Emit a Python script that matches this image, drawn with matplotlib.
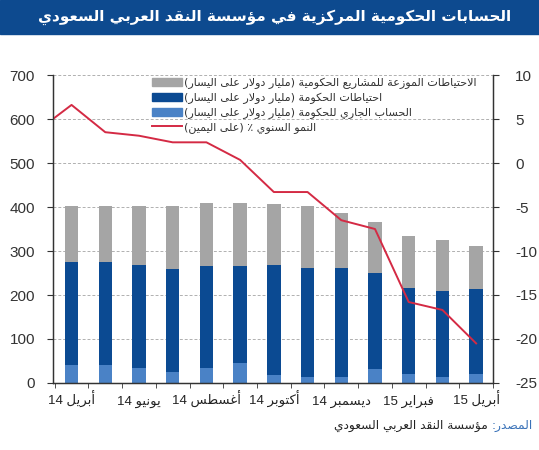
import numpy as np
import matplotlib
matplotlib.use('Agg')
from matplotlib import pyplot as plt
from matplotlib.patches import Rectangle, Patch
from matplotlib.lines import Line2D

plt.rcParams['font.family'] = ['Liberation Sans', 'DejaVu Sans']
plt.rcParams['axes.unicode_minus'] = False

# ---- data ----
months = ['أبريل 14', 'مايو 14', 'يونيو 14', 'يوليو 14', 'أغسطس 14', 'سبتمبر 14', 'أكتوبر 14',
          'نوفمبر 14', 'ديسمبر 14', 'يناير 15', 'فبراير 15', 'مارس 15', 'أبريل 15']
current_account = [42, 42, 35, 25, 33, 46, 18, 14, 14, 31, 21, 14, 21]
gov_reserves = [233, 233, 233, 233, 233, 220, 250, 247, 247, 220, 194, 194, 192]
project_reserves = [127, 127, 134, 144, 144, 144, 139, 142, 125, 115, 120, 117, 98]
# growth series starts one month earlier (March 14), clipped by the axis edge
growth = [3.7, 6.6, 3.5, 3.1, 2.35, 2.35, 0.35, -3.3, -3.3, -6.5, -7.5, -15.8, -16.7, -20.5]

title = 'الحسابات الحكومية المركزية في مؤسسة النقد العربي السعودي'
lbl_project = 'الاحتياطات الموزعة للمشاريع الحكومية (مليار دولار على اليسار)'
lbl_gov = 'احتياطات الحكومة (مليار دولار على اليسار)'
lbl_current = 'الحساب الجاري للحكومة (مليار دولار على اليسار)'
lbl_growth = 'النمو السنوي ٪ (على اليمين)'
source_head = 'المصدر:'
source_body = 'مؤسسة النقد العربي السعودي'

GRAY = '#a5a5a5'
DARK = '#0b4a92'
LIGHT = '#4a82c6'
RED = '#d42a44'
BANNER = '#0d4a8f'

# ---- tiny arabic shaper (matplotlib has no shaping / bidi) ----
DUAL = {'ئ': 0xFE89, 'ب': 0xFE8F, 'ت': 0xFE95, 'ث': 0xFE99, 'ج': 0xFE9D, 'ح': 0xFEA1,
        'خ': 0xFEA5, 'س': 0xFEB1, 'ش': 0xFEB5, 'ص': 0xFEB9, 'ض': 0xFEBD, 'ط': 0xFEC1,
        'ظ': 0xFEC5, 'ع': 0xFEC9, 'غ': 0xFECD, 'ف': 0xFED1, 'ق': 0xFED5, 'ك': 0xFED9,
        'ل': 0xFEDD, 'م': 0xFEE1, 'ن': 0xFEE5, 'ه': 0xFEE9, 'ي': 0xFEF1}
RIGHT = {'آ': 0xFE81, 'أ': 0xFE83, 'ؤ': 0xFE85, 'إ': 0xFE87, 'ا': 0xFE8D, 'ة': 0xFE93,
         'د': 0xFEA9, 'ذ': 0xFEAB, 'ر': 0xFEAD, 'ز': 0xFEAF, 'و': 0xFEED, 'ى': 0xFEEF}
LAM_ALEF = {'آ': 0xFEF5, 'أ': 0xFEF7, 'إ': 0xFEF9, 'ا': 0xFEFB}


def shape(s):
    chars = []
    i = 0
    while i < len(s):
        if s[i] == 'ل' and i + 1 < len(s) and s[i + 1] in LAM_ALEF:
            chars.append(('LA', s[i + 1]))
            i += 2
        else:
            chars.append(s[i])
            i += 1
    out = []
    for k, c in enumerate(chars):
        prev = chars[k - 1] if k > 0 else None
        nxt = chars[k + 1] if k + 1 < len(chars) else None
        jp = isinstance(prev, str) and prev in DUAL
        jn = isinstance(nxt, tuple) or (isinstance(nxt, str) and (nxt in DUAL or nxt in RIGHT))
        if isinstance(c, tuple):
            out.append(chr(LAM_ALEF[c[1]] + (1 if jp else 0)))
        elif c in DUAL:
            b = DUAL[c]
            if jp and jn:
                out.append(chr(b + 3))
            elif jp:
                out.append(chr(b + 1))
            elif jn:
                out.append(chr(b + 2))
            else:
                out.append(chr(b))
        elif c in RIGHT:
            out.append(chr(RIGHT[c] + (1 if jp else 0)))
        else:
            out.append(c)
    s = ''.join(out)
    # visual order: reverse, keep digit runs left-to-right, mirror brackets
    runs = []
    for ch in s:
        d = ch.isdigit()
        if runs and runs[-1][0] == d:
            runs[-1][1].append(ch)
        else:
            runs.append([d, [ch]])
    vis = ''
    for d, r in reversed(runs):
        vis += ''.join(r) if d else ''.join(reversed(r))
    return vis.translate(str.maketrans('()', ')('))


fig = plt.figure(figsize=(5.39, 4.5), dpi=100)

# banner
fig.patches.append(Rectangle((0, 1 - 34 / 450), 1, 34 / 450, transform=fig.transFigure,
                             color=BANNER, zorder=0))
fig.text(511 / 539, 1 - 17 / 450, shape(title), color='white', fontsize=11,
         fontweight='bold', ha='right', va='center', family='DejaVu Sans')

ax = fig.add_axes([53 / 539, 1 - 383 / 450, 440 / 539, 308 / 450])
ax2 = ax.twinx()

x = np.arange(len(months))
w = 0.4
ax.bar(x, current_account, w, color=LIGHT, zorder=2)
ax.bar(x, gov_reserves, w, bottom=current_account, color=DARK, zorder=2)
bottom2 = np.array(current_account) + np.array(gov_reserves)
ax.bar(x, project_reserves, w, bottom=bottom2, color=GRAY, zorder=2)

ax2.plot(np.arange(-1, len(months)), growth, color=RED, lw=1.4)

ax.set_xlim(-0.55, 12.47)
ax.set_ylim(0, 700)
ax2.set_ylim(-25, 10)
ax.set_yticks(range(0, 701, 100))
ax2.set_yticks(range(-25, 11, 5))
ax.grid(axis='y', color='#b0b0b0', ls=(0, (3, 2)), lw=0.7, zorder=0)
ax.set_axisbelow(True)

ax.set_xticks(x[::2])
ax.set_xticklabels([shape(m) for m in months[::2]], fontsize=9.5, color='#222222')
for lab in ax.get_xticklabels():
    lab.set_va('baseline')
ax.set_xticks(np.arange(-0.5, 12.6, 1), minor=True)
ax.tick_params(axis='x', which='major', length=0, pad=16)
ax.tick_params(axis='x', which='minor', length=3.5, direction='out', color='#333333')
ax.tick_params(axis='y', length=4, pad=9, labelsize=11, labelcolor='#333333', color='#333333')
ax2.tick_params(axis='y', length=4, pad=12, labelsize=11, labelcolor='#333333', color='#333333')

for a in (ax, ax2):
    a.spines['top'].set_visible(False)
    for s in ('left', 'right', 'bottom'):
        a.spines[s].set_color('#333333')
        a.spines[s].set_linewidth(0.9)

handles = [Patch(color=GRAY), Patch(color=DARK), Patch(color=LIGHT),
           Line2D([], [], color=RED, lw=1.4)]
labels = [shape(lbl_project), shape(lbl_gov), shape(lbl_current), shape(lbl_growth)]
leg = ax2.legend(handles, labels, loc='upper left', bbox_to_anchor=(0.215, 1.005),
                 frameon=False, handlelength=2.7, handleheight=0.75,
                 handletextpad=0.2, labelspacing=0.3, borderaxespad=0,
                 prop={'family': 'DejaVu Sans', 'size': 8.0})
for t in leg.get_texts():
    t.set_color('#333333')

# source line: blue head, black body placed just left of it
t1 = fig.text(533 / 539, 1 - 429 / 450, shape(source_head), color='#3a72b8', fontsize=8.8,
              ha='right', va='baseline', family='DejaVu Sans')
ax.annotate(shape(source_body) + ' ', xy=(0, 0), xycoords=t1, ha='right', va='bottom',
            color='#222222', fontsize=8.8, family='DejaVu Sans', annotation_clip=False)

fig.savefig('out.png', dpi=100)
